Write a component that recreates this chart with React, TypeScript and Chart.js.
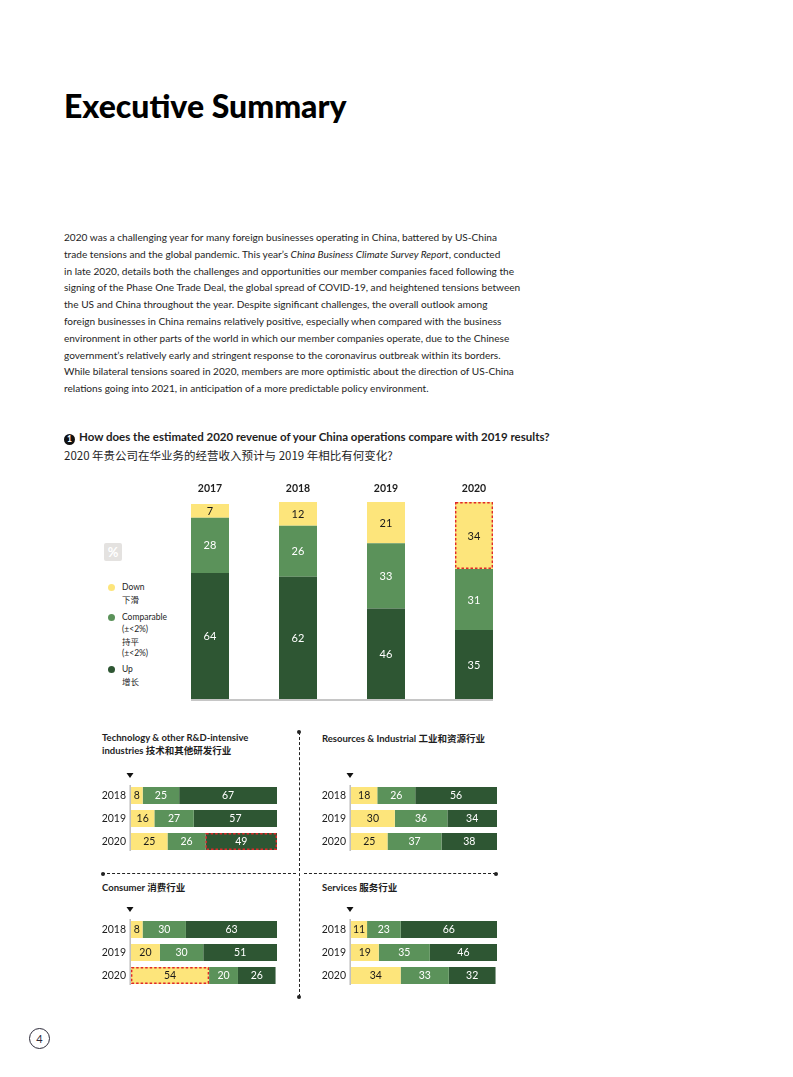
import React, { useEffect, useRef } from "react";
import { Chart, registerables } from "chart.js";

Chart.register(...registerables);

// ---------- DATA ----------
const MAIN_YEARS = ["2017", "2018", "2019", "2020"];
const MAIN_UP = [64, 62, 46, 35];
const MAIN_COMPARABLE = [28, 26, 33, 31];
const MAIN_DOWN = [7, 12, 21, 34];

const SMALL_YEARS = ["2018", "2019", "2020"];
const TECH_DOWN = [8, 16, 25];
const TECH_COMPARABLE = [25, 27, 26];
const TECH_UP = [67, 57, 49];
const RES_DOWN = [18, 30, 25];
const RES_COMPARABLE = [26, 36, 37];
const RES_UP = [56, 34, 38];
const CON_DOWN = [8, 20, 54];
const CON_COMPARABLE = [30, 30, 20];
const CON_UP = [63, 51, 26];
const SER_DOWN = [11, 19, 34];
const SER_COMPARABLE = [23, 35, 33];
const SER_UP = [66, 46, 32];

const LEGEND_ITEMS = [
  { key: "down", lines: ["Down", "下滑"] },
  { key: "comp", lines: ["Comparable", "(±<2%)", "持平", "(±<2%)"] },
  { key: "up", lines: ["Up", "增长"] },
];

const PARAGRAPH_LINES = [
  "2020 was a challenging year for many foreign businesses operating in China, battered by US-China",
  "trade tensions and the global pandemic. This year’s |China Business Climate Survey Report|, conducted",
  "in late 2020, details both the challenges and opportunities our member companies faced following the",
  "signing of the Phase One Trade Deal, the global spread of COVID-19, and heightened tensions between",
  "the US and China throughout the year. Despite significant challenges, the overall outlook among",
  "foreign businesses in China remains relatively positive, especially when compared with the business",
  "environment in other parts of the world in which our member companies operate, due to the Chinese",
  "government’s relatively early and stringent response to the coronavirus outbreak within its borders.",
  "While bilateral tensions soared in 2020, members are more optimistic about the direction of US-China",
  "relations going into 2021, in anticipation of a more predictable policy environment.",
];

// ---------- STYLE ----------
const COLOR_UP = "#2e5633";
const COLOR_COMP = "#5b925a";
const COLOR_DOWN = "#fde57b";
const TEXT = "#1e1e1e";
const FONT = "Lato, 'Open Sans', sans-serif";
const CJK = "'Noto Sans CJK SC', sans-serif";

// ---------- PLUGINS ----------
const valueLabels = (size: number) => ({
  id: "valueLabels",
  afterDatasetsDraw(chart: any) {
    const ctx = chart.ctx;
    ctx.save();
    ctx.font = `${size}px ${FONT}`;
    ctx.textAlign = "center";
    ctx.textBaseline = "middle";
    chart.data.datasets.forEach((ds: any, di: number) => {
      const meta = chart.getDatasetMeta(di);
      meta.data.forEach((el: any, i: number) => {
        const p = el.getCenterPoint();
        ctx.fillStyle = ds.labelColor;
        ctx.fillText(String(ds.data[i]), p.x, p.y + 0.5);
      });
    });
    ctx.restore();
  },
});

const dashedOutline = (di: number, idx: number, horizontal: boolean) => ({
  id: "dashedOutline",
  afterDatasetsDraw(chart: any) {
    const el = chart.getDatasetMeta(di).data[idx];
    if (!el) return;
    const p = el.getProps(["x", "y", "base", "width", "height"], true);
    const ctx = chart.ctx;
    ctx.save();
    ctx.strokeStyle = "#e0282a";
    ctx.lineWidth = 1.4;
    ctx.setLineDash([2.5, 2]);
    if (horizontal) {
      const l = Math.min(p.base, p.x), r = Math.max(p.base, p.x);
      ctx.strokeRect(l + 0.7, p.y - p.height / 2 + 0.7, r - l - 1.4, p.height - 1.4);
    } else {
      const t = Math.min(p.y, p.base), b = Math.max(p.y, p.base);
      ctx.strokeRect(p.x - p.width / 2 + 0.7, t + 0.7, p.width - 1.4, b - t - 1.4);
    }
    ctx.restore();
  },
});

const mainDecor = {
  id: "mainDecor",
  afterDraw(chart: any) {
    const ctx = chart.ctx;
    const meta = chart.getDatasetMeta(0);
    ctx.save();
    ctx.font = `bold 10.5px ${FONT}`;
    ctx.fillStyle = TEXT;
    ctx.textAlign = "center";
    ctx.textBaseline = "middle";
    meta.data.forEach((el: any, i: number) => {
      ctx.fillText(chart.data.labels[i], el.x, 14);
    });
    const first = meta.data[0], last = meta.data[meta.data.length - 1];
    ctx.strokeStyle = "#c6c6c6";
    ctx.lineWidth = 2;
    ctx.beginPath();
    ctx.moveTo(first.x - first.width / 2, chart.chartArea.bottom + 1);
    ctx.lineTo(last.x + last.width / 2, chart.chartArea.bottom + 1);
    ctx.stroke();
    ctx.restore();
  },
};

const smallDecor = {
  id: "smallDecor",
  afterDraw(chart: any) {
    const ctx = chart.ctx;
    const { left, top, bottom } = chart.chartArea;
    const meta = chart.getDatasetMeta(0);
    ctx.save();
    ctx.font = `10.5px ${FONT}`;
    ctx.fillStyle = TEXT;
    ctx.textAlign = "right";
    ctx.textBaseline = "middle";
    meta.data.forEach((el: any, i: number) => {
      ctx.fillText(chart.data.labels[i], left - 5, el.y + 0.5);
    });
    ctx.strokeStyle = "#bdbdbd";
    ctx.lineWidth = 1.5;
    ctx.beginPath();
    ctx.moveTo(left - 0.8, top + 1);
    ctx.lineTo(left - 0.8, bottom - 2);
    ctx.stroke();
    ctx.fillStyle = "#111";
    ctx.beginPath();
    ctx.moveTo(left - 4.5, top - 11);
    ctx.lineTo(left + 2.5, top - 11);
    ctx.lineTo(left - 1, top - 6);
    ctx.closePath();
    ctx.fill();
    ctx.restore();
  },
};

// ---------- COMPONENTS ----------
function ChartCanvas({ left, top, width, height, config }: any) {
  const ref = useRef<HTMLCanvasElement | null>(null);
  useEffect(() => {
    if (!ref.current) return;
    const chart = new Chart(ref.current, config());
    return () => chart.destroy();
  }, []);
  return (
    <canvas
      ref={ref}
      width={width}
      height={height}
      style={{ position: "absolute", left, top, width, height, display: "block" }}
    />
  );
}

function mainConfig() {
  return {
    type: "bar",
    data: {
      labels: MAIN_YEARS,
      datasets: [
        { label: "Up", data: MAIN_UP, backgroundColor: COLOR_UP, labelColor: "#ffffff" },
        { label: "Comparable", data: MAIN_COMPARABLE, backgroundColor: COLOR_COMP, labelColor: "#ffffff" },
        { label: "Down", data: MAIN_DOWN, backgroundColor: COLOR_DOWN, labelColor: "#1a1a1a" },
      ],
    },
    options: {
      responsive: false,
      animation: false,
      layout: { padding: { left: 16, right: 16, top: 27, bottom: 6 } },
      plugins: { legend: { display: false }, tooltip: { enabled: false } },
      datasets: { bar: { categoryPercentage: 38 / 88, barPercentage: 1 } },
      scales: {
        x: { stacked: true, display: false },
        y: { stacked: true, display: false, min: 0, max: 100 },
      },
    },
    plugins: [valueLabels(11), dashedOutline(2, 3, false), mainDecor],
  };
}

function smallConfig(down: number[], comp: number[], up: number[], outline?: [number, number]) {
  const max = Math.max(...down.map((d, i) => d + comp[i] + up[i]));
  return () => ({
    type: "bar",
    data: {
      labels: SMALL_YEARS,
      datasets: [
        { label: "Down", data: down, backgroundColor: COLOR_DOWN, labelColor: "#1a1a1a" },
        { label: "Comparable", data: comp, backgroundColor: COLOR_COMP, labelColor: "#ffffff" },
        { label: "Up", data: up, backgroundColor: COLOR_UP, labelColor: "#ffffff" },
      ],
    },
    options: {
      indexAxis: "y",
      responsive: false,
      animation: false,
      layout: { padding: { left: 35, right: 5, top: 16, bottom: 4 } },
      plugins: { legend: { display: false }, tooltip: { enabled: false } },
      datasets: { bar: { categoryPercentage: 17 / 23, barPercentage: 1 } },
      scales: {
        x: { stacked: true, display: false, min: 0, max },
        y: { stacked: true, display: false },
      },
    },
    plugins: [
      valueLabels(10.5),
      ...(outline ? [dashedOutline(outline[0], outline[1], true)] : []),
      smallDecor,
    ],
  });
}

function Text({ left, top, size, weight, children, family, lh, style }: any) {
  return (
    <div
      style={{
        position: "absolute",
        left,
        top,
        fontSize: size,
        fontWeight: weight || 400,
        fontFamily: family || FONT,
        lineHeight: `${lh || size * 1.2}px`,
        whiteSpace: "nowrap",
        color: TEXT,
        ...style,
      }}
    >
      {children}
    </div>
  );
}

function renderLine(line: string) {
  const parts = line.split("|");
  return parts.map((p, i) => (i % 2 === 1 ? <i key={i}>{p}</i> : <span key={i}>{p}</span>));
}

const legendColor: Record<string, string> = { down: COLOR_DOWN, comp: COLOR_COMP, up: COLOR_UP };

export default function App() {
  const legendTops = [580, 610, 662];
  return (
    <div
      style={{
        position: "absolute",
        left: 0,
        top: 0,
        width: 793,
        height: 1077,
        background: "#fff",
        fontFamily: FONT,
        color: TEXT,
        overflow: "hidden",
      }}
    >
      <Text left={64} top={86} size={32} weight={900} lh={40} style={{ letterSpacing: "0px", color: "#000" }}>
        Executive Summary
      </Text>

      {PARAGRAPH_LINES.map((l, i) => (
        <Text key={i} left={64} top={229 + i * 16.8} size={10.1} lh={16}>
          {renderLine(l)}
        </Text>
      ))}

      <Text left={64} top={430} size={11.5} weight={700} lh={14}>
        <span
          style={{
            display: "inline-block",
            width: 11,
            height: 11,
            borderRadius: 6,
            background: "#111",
            color: "#fff",
            fontSize: 8.5,
            lineHeight: "11px",
            textAlign: "center",
            verticalAlign: "-1px",
            marginRight: 4,
          }}
        >
          1
        </span>
        How does the estimated 2020 revenue of your China operations compare with 2019 results?
      </Text>
      <Text left={64} top={447} size={11.5} family={CJK} lh={16}>
        2020 年贵公司在华业务的经营收入预计与 2019 年相比有何变化?
      </Text>

      {/* % badge */}
      <div
        style={{
          position: "absolute",
          left: 104,
          top: 543,
          width: 18,
          height: 18,
          borderRadius: 2,
          background: "#e4e2e0",
          color: "#fff",
          fontWeight: 700,
          fontSize: 13,
          lineHeight: "18px",
          textAlign: "center",
          fontFamily: FONT,
        }}
      >
        %
      </div>

      {LEGEND_ITEMS.map((item, k) => (
        <React.Fragment key={item.key}>
          <div
            style={{
              position: "absolute",
              left: 108,
              top: legendTops[k] + 3.5,
              width: 7,
              height: 7,
              borderRadius: 4,
              background: legendColor[item.key],
            }}
          />
          {item.lines.map((t, j) => (
            <Text key={j} left={122} top={legendTops[k] + j * 12} size={8.5} lh={14} family={/[\u4e00-\u9fff]/.test(t) ? CJK : FONT}>
              {t}
            </Text>
          ))}
        </React.Fragment>
      ))}

      <ChartCanvas left={150} top={475} width={384} height={230} config={mainConfig} />

      {/* panel titles */}
      <Text left={102} top={732} size={9.5} weight={700} lh={12}>
        Technology &amp; other R&amp;D-intensive
        <br />
        industries <span style={{ fontFamily: CJK }}>技术和其他研发行业</span>
      </Text>
      <Text left={322} top={732} size={9.5} weight={700} lh={12}>
        Resources &amp; Industrial <span style={{ fontFamily: CJK }}>工业和资源行业</span>
      </Text>
      <Text left={102} top={881} size={9.5} weight={700} lh={12}>
        Consumer <span style={{ fontFamily: CJK }}>消费行业</span>
      </Text>
      <Text left={322} top={881} size={9.5} weight={700} lh={12}>
        Services <span style={{ fontFamily: CJK }}>服务行业</span>
      </Text>

      <ChartCanvas left={96} top={768} width={186} height={89} config={smallConfig(TECH_DOWN, TECH_COMPARABLE, TECH_UP, [2, 2])} />
      <ChartCanvas left={316} top={768} width={186} height={89} config={smallConfig(RES_DOWN, RES_COMPARABLE, RES_UP)} />
      <ChartCanvas left={96} top={902} width={186} height={89} config={smallConfig(CON_DOWN, CON_COMPARABLE, CON_UP, [0, 2])} />
      <ChartCanvas left={316} top={902} width={186} height={89} config={smallConfig(SER_DOWN, SER_COMPARABLE, SER_UP)} />

      {/* dividers */}
      <div style={{ position: "absolute", left: 298.5, top: 732, height: 265, borderLeft: "1px dashed #222" }} />
      <div style={{ position: "absolute", left: 297, top: 730, width: 4, height: 4, borderRadius: 2, background: "#222" }} />
      <div style={{ position: "absolute", left: 297, top: 995, width: 4, height: 4, borderRadius: 2, background: "#222" }} />
      <div style={{ position: "absolute", left: 102, top: 873, width: 194, borderTop: "1px dashed #222" }} />
      <div style={{ position: "absolute", left: 304, top: 873, width: 192, borderTop: "1px dashed #222" }} />
      <div style={{ position: "absolute", left: 101, top: 871.5, width: 4, height: 4, borderRadius: 2, background: "#222" }} />
      <div style={{ position: "absolute", left: 494, top: 871.5, width: 4, height: 4, borderRadius: 2, background: "#222" }} />

      {/* page number */}
      <div
        style={{
          position: "absolute",
          left: 29,
          top: 1028,
          width: 19,
          height: 19,
          border: "1.5px solid #2d2b3a",
          borderRadius: "50%",
          textAlign: "center",
          lineHeight: "19px",
          fontSize: 11,
          color: "#2d2b3a",
          fontFamily: FONT,
        }}
      >
        4
      </div>
    </div>
  );
}
